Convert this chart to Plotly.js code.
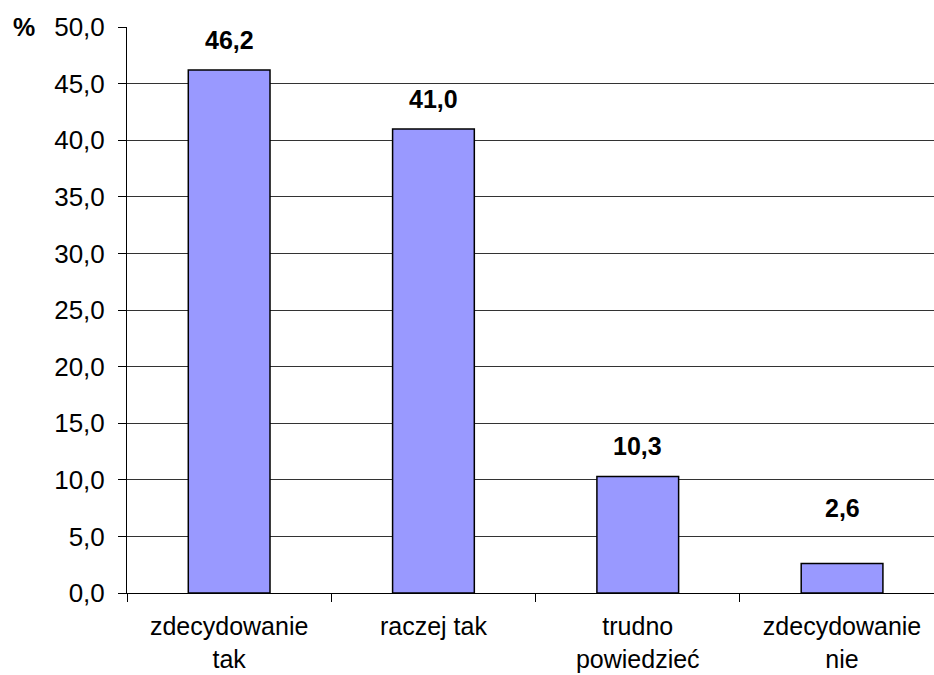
<!DOCTYPE html>
<html>
<head>
<meta charset="utf-8">
<script src="https://cdn.plot.ly/plotly-3.0.1.min.js"></script>
<style>html,body{margin:0;padding:0;background:#fff;}#chart{width:934px;height:675px;}</style>
</head>
<body>
<div id="chart"></div>
<script>
const categories = ["zdecydowanie<br>tak", "raczej tak", "trudno<br>powiedzieć", "zdecydowanie<br>nie"];
const values = [46.2, 41.0, 10.3, 2.6];
const tickValues = [0, 5, 10, 15, 20, 25, 30, 35, 40, 45, 50];
const tickLabels = tickValues.map(v => v.toFixed(1).replace('.', ','));
const labelShift = [30, 30, 30, 56];

const font = "Liberation Sans, Arial, sans-serif";

const trace = {
  type: 'bar',
  x: categories,
  y: values,
  width: 0.4,
  marker: {color: '#9999FF', line: {color: '#000000', width: 1.5}},
  hoverinfo: 'none'
};

const annotations = values.map((v, i) => ({
  x: categories[i], y: v, xref: 'x', yref: 'y',
  text: '<b>' + v.toFixed(1).replace('.', ',') + '</b>',
  showarrow: false, yshift: labelShift[i],
  font: {family: font, size: 25, color: '#000'}
}));
annotations.push({
  xref: 'paper', yref: 'paper', x: -127/807 + 11/807, y: 1, xanchor: 'left', yanchor: 'middle',
  text: '<b>%</b>', showarrow: false, font: {family: font, size: 25, color: '#000'}
});

const layout = {
  width: 934, height: 675,
  margin: {l: 127, r: 0, t: 27, b: 82, pad: 0},
  paper_bgcolor: '#fff', plot_bgcolor: '#fff',
  showlegend: false,
  font: {family: font, size: 25, color: '#000'},
  xaxis: {
    type: 'category', range: [-0.5, 3.45],
    showline: true, linecolor: '#000', linewidth: 1,
    ticks: 'outside', tickson: 'boundaries', ticklen: 8, tickcolor: '#000',
    ticklabelstandoff: 11,
    showgrid: false, tickfont: {family: font, size: 25, color: '#000'},
    fixedrange: true
  },
  yaxis: {
    range: [0, 50], tickvals: tickValues, ticktext: tickLabels,
    showline: true, linecolor: '#000', linewidth: 1,
    ticks: 'outside', ticklen: 8, tickcolor: '#000',
    ticklabelstandoff: 8,
    showgrid: true, gridcolor: '#333', gridwidth: 1, zeroline: false,
    tickfont: {family: font, size: 26, color: '#000'},
    fixedrange: true
  },
  annotations: annotations
};

Plotly.newPlot('chart', [trace], layout, {staticPlot: true, displayModeBar: false});
</script>
</body>
</html>
